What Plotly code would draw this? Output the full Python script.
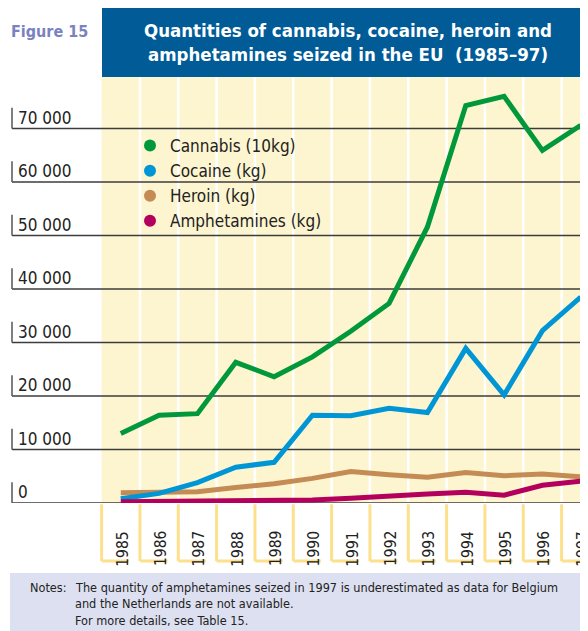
import plotly.graph_objects as go

# ---- data ----
years = list(range(1985, 1998))
cannabis_10kg = [13000, 16400, 16700, 26300, 23600, 27300, 32100, 37300, 51600, 74300, 76000, 65900, 70600]
cocaine_kg = [800, 1800, 3800, 6700, 7600, 16400, 16300, 17700, 16900, 28900, 20200, 32200, 38500]
heroin_kg = [1900, 1900, 2100, 2900, 3600, 4600, 5900, 5300, 4800, 5700, 5100, 5400, 4900]
amphetamines_kg = [250, 300, 400, 400, 400, 560, 880, 1360, 1680, 2000, 1460, 3300, 4100]
y_ticks = [0, 10000, 20000, 30000, 40000, 50000, 60000, 70000]
y_tick_labels = ["0", "10 000", "20 000", "30 000", "40 000", "50 000", "60 000", "70 000"]

series = [
    ("Cannabis (10kg)", cannabis_10kg, "#00983a"),
    ("Cocaine (kg)", cocaine_kg, "#0096d6"),
    ("Heroin (kg)", heroin_kg, "#c48b55"),
    ("Amphetamines (kg)", amphetamines_kg, "#b3005c"),
]
draw_order = [0, 2, 1, 3]

FONT = "Liberation Sans Narrow, DejaVu Sans Condensed, Arial Narrow, sans-serif"


def px(x):  # reference pixel x -> paper
    return (x - 12) / 576


def py(y):  # reference pixel y -> paper
    return (503 - y) / 426


fig = go.Figure()
for i in draw_order:
    name, vals, col = series[i]
    fig.add_trace(go.Scatter(x=years, y=vals, mode="lines", name=name,
                             line=dict(color=col, width=5), showlegend=False,
                             hoverinfo="x+y+name"))
# legend entries (circle symbols)
for name, vals, col in series:
    fig.add_trace(go.Scatter(x=[None], y=[None], mode="markers", name=name,
                             marker=dict(color=col, size=12), showlegend=True))

X0, X1 = 1982.162, 1997.189
YMAX = 79626

shapes = []
shapes.append(dict(type="rect", xref="x", yref="paper", x0=years[0] - 0.5, x1=years[-1] + 0.6,
                   y0=0, y1=1, fillcolor="#fdf5cf", line=dict(width=0), layer="below"))
for yr in years[1:]:
    shapes.append(dict(type="line", xref="x", yref="paper", x0=yr - 0.5, x1=yr - 0.5,
                       y0=0, y1=1, line=dict(color="white", width=2.5), layer="below"))
for v in y_ticks:
    shapes.append(dict(type="line", xref="paper", yref="y", x0=0, x1=1, y0=v, y1=v,
                       line=dict(color="#3c3c3c", width=1.3), layer="below"))
    shapes.append(dict(type="line", xref="paper", yref="y", x0=0, x1=0, y0=v, y1=v + 3900,
                       line=dict(color="#555555", width=1.5), layer="below"))
for yr in years:
    b = yr - 0.5
    shapes.append(dict(type="line", xref="x", yref="paper", x0=b, x1=b, y0=-0.003, y1=py(561),
                       line=dict(color="#fde08c", width=3)))
    shapes.append(dict(type="line", xref="x", yref="paper", x0=b, x1=b + 0.72, y0=py(561), y1=py(561),
                       line=dict(color="#fde08c", width=3)))
shapes.append(dict(type="rect", xref="paper", yref="paper", x0=px(102), x1=1.01,
                   y0=1.0, y1=py(8), fillcolor="#005b97", line=dict(width=0)))
shapes.append(dict(type="rect", xref="paper", yref="paper", x0=px(10), x1=1.01,
                   y0=py(640), y1=py(573), fillcolor="#dde0f0", line=dict(width=0)))

annotations = []
for v, lab in zip(y_ticks, y_tick_labels):
    annotations.append(dict(x=0, y=v, xref="paper", yref="y", xanchor="left", yanchor="bottom",
                            xshift=4, yshift=-1, text=lab, showarrow=False,
                            font=dict(family=FONT, size=17, color="#222222")))
for yr in years:
    annotations.append(dict(x=yr, y=py(533), xref="x", yref="paper", text=str(yr), textangle=-90,
                            showarrow=False, xshift=2, yanchor="middle", xanchor="center",
                            yshift=-16,
                            font=dict(family=FONT, size=15.5, color="#222222")))
annotations.append(dict(x=px(348), y=py(42), xref="paper", yref="paper",
                        text="<b>Quantities of cannabis, cocaine, heroin and<br>amphetamines seized in the EU  (1985\u201397)</b>",
                        showarrow=False, align="center", xanchor="center", yanchor="middle",
                        font=dict(family=FONT, size=18.5, color="white")))
annotations.append(dict(x=px(9), y=py(31), xref="paper", yref="paper",
                        text="<b>Figure 15</b>", showarrow=False, xanchor="left", yanchor="middle",
                        font=dict(family=FONT, size=16, color="#7b82c0")))
note_lines = ["The quantity of amphetamines seized in 1997 is underestimated as data for Belgium",
              "and the Netherlands are not available.",
              "For more details, see Table 15."]
annotations.append(dict(x=px(28), y=py(587), xref="paper", yref="paper",
                        text="Notes:", showarrow=False, xanchor="left", yanchor="middle",
                        font=dict(family=FONT, size=12.6, color="#222222")))
for k, line in enumerate(note_lines):
    annotations.append(dict(x=px(73), y=py(587 + 16.7 * k), xref="paper",
                            yref="paper", text=line, showarrow=False, xanchor="left", yanchor="middle",
                            font=dict(family=FONT, size=12.6, color="#222222")))

fig.update_layout(
    width=580, height=623,
    margin=dict(l=4, r=0, t=69, b=128, pad=0),
    paper_bgcolor="white", plot_bgcolor="white",
    xaxis=dict(range=[X0, X1], visible=False, fixedrange=True),
    yaxis=dict(range=[0, YMAX], visible=False, fixedrange=True),
    shapes=shapes, annotations=annotations,
    showlegend=True,
    legend=dict(x=px(130), y=py(128), xanchor="left", yanchor="top",
                bgcolor="rgba(0,0,0,0)", borderwidth=0,
                font=dict(family=FONT, size=17, color="#222222"), tracegroupgap=0),
)

fig.write_html("out.html")
